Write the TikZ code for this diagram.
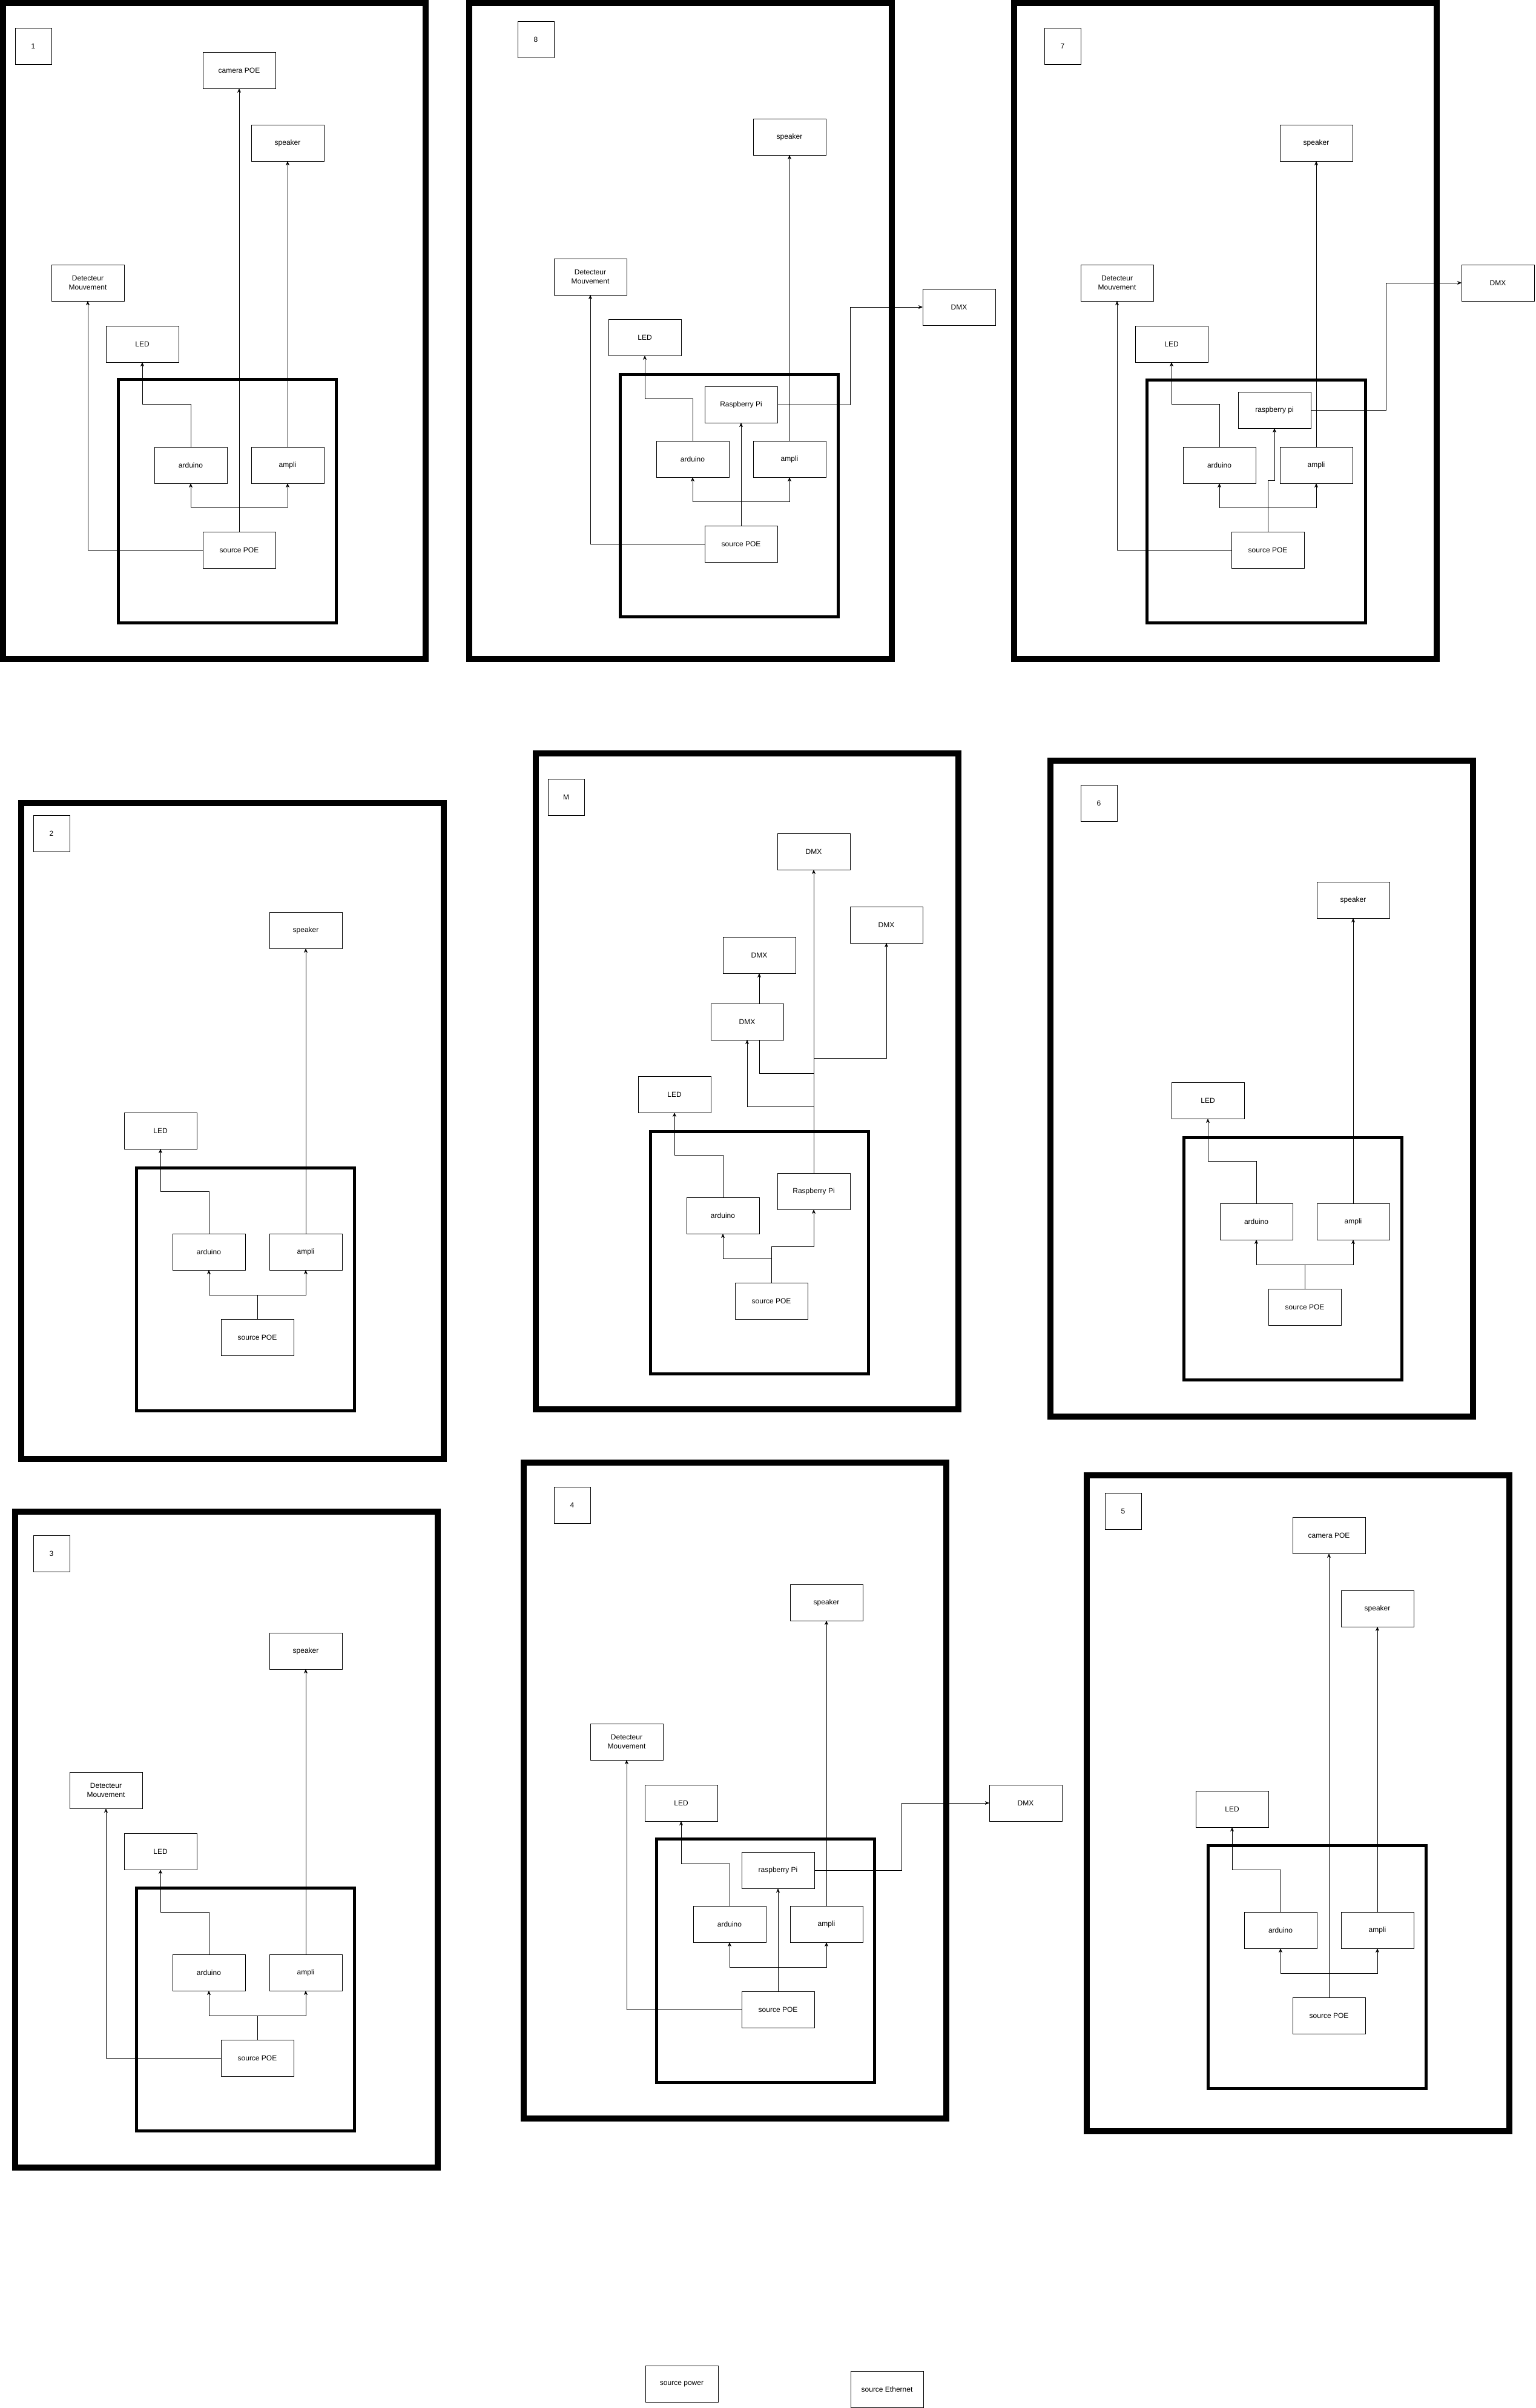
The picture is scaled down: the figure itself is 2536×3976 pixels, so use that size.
\documentclass[tikz,border=0pt]{standalone}
\usepackage{fontspec}
\setmainfont{Liberation Sans}
\usepackage{xcolor}
\usetikzlibrary{arrows.meta}
\definecolor{ink}{HTML}{000000}
\tikzset{
  every picture/.style={line width=1pt},
  box/.style={draw=ink, fill=white, anchor=north west, minimum width=120pt, minimum height=60pt,
    inner sep=0pt, outer sep=0pt, align=center, text=ink, font=\fontsize{12}{14.4}\selectfont},
  tag/.style={box, minimum width=60pt},
  frame/.style={draw=ink, line width=10pt},
  zone/.style={draw=ink, line width=5pt},
  flow/.style={-{Stealth[length=7pt, width=6pt, inset=2pt]}, draw=ink},
  wire/.style={draw=ink},
}
\begin{document}
\begin{tikzpicture}[x=1pt, y=-1pt]
\path[use as bounding box, fill=white] (0,0) rectangle (2536,3976);
% panel 1
\draw[frame] (5,5) rectangle (703,1088);
\draw[zone] (195,626) rectangle (555,1028);
\node[tag] (n1) at (25,46) {1};
\node[box] (cam1) at (335,86) {camera POE};
\node[box] (spk1) at (415,206) {speaker};
\node[box] (det1) at (85,437) {Detecteur\\Mouvement};
\node[box] (led1) at (175,538) {LED};
\node[box] (ard1) at (255,738) {arduino};
\node[box] (amp1) at (415,738) {ampli};
\node[box] (src1) at (335,878) {source POE};
\draw[flow] (ard1.north) -- ++(0,-71) -| (led1.south);
\draw[flow] (src1.north) -- ++(0,-41) -| (ard1.south);
\draw[flow] (src1.north) -- ++(0,-41) -| (amp1.south);
\draw[flow] (src1.north) -- (cam1.south);
\draw[flow] (src1.west) -| (det1.south);
\draw[flow] (amp1.north) -- (spk1.south);
% panel 8
\draw[frame] (775,5) rectangle (1473,1088);
\draw[zone] (1024,618) rectangle (1384,1018);
\node[tag] (n8) at (855,35) {8};
\node[box] (spk8) at (1244,196) {speaker};
\node[box] (det8) at (915,427) {Detecteur\\Mouvement};
\node[box] (led8) at (1005,527) {LED};
\node[box] (dmx8) at (1524,477) {DMX};
\node[box] (rpi8) at (1164,638) {Raspberry Pi};
\node[box] (ard8) at (1084,728) {arduino};
\node[box] (amp8) at (1244,728) {ampli};
\node[box] (src8) at (1164,868) {source POE};
\draw[flow] (ard8.north) -- ++(0,-70) -| (led8.south);
\draw[flow] (src8.north) -- ++(0,-40) -| (ard8.south);
\draw[flow] (src8.north) -- ++(0,-40) -| (amp8.south);
\draw[flow] (src8.north) -- (rpi8.south);
\draw[flow] (src8.west) -| (det8.south);
\draw[flow] (amp8.north) -- (spk8.south);
\draw[flow] (rpi8.east) -- ++(120,0) |- (dmx8.west);
% panel 7
\draw[frame] (1675,5) rectangle (2373,1088);
\draw[zone] (1894,627) rectangle (2255,1028);
\node[tag] (n7) at (1725,46) {7};
\node[box] (spk7) at (2114,206) {speaker};
\node[box] (det7) at (1785,437) {Detecteur\\Mouvement};
\node[box] (led7) at (1875,538) {LED};
\node[box] (dmx7) at (2414,437) {DMX};
\node[box] (rpi7) at (2045,647) {raspberry pi};
\node[box] (ard7) at (1954,738) {arduino};
\node[box] (amp7) at (2114,738) {ampli};
\node[box] (src7) at (2034,878) {source POE};
\draw[flow] (ard7.north) -- ++(0,-71) -| (led7.south);
\draw[flow] (src7.north) -- ++(0,-40) -| (ard7.south);
\draw[flow] (src7.north) -- ++(0,-40) -| (amp7.south);
\draw[flow] (src7.north) -- ++(0,-85) -| (rpi7.south);
\draw[flow] (src7.west) -| (det7.south);
\draw[flow] (amp7.north) -- (spk7.south);
\draw[flow] (rpi7.east) -- ++(124,0) |- (dmx7.west);
% panel 2
\draw[frame] (35,1326) rectangle (733,2409);
\draw[zone] (225,1928) rectangle (585,2329);
\node[tag] (n2) at (55,1346) {2};
\node[box] (spk2) at (445,1506) {speaker};
\node[box] (led2) at (205,1837) {LED};
\node[box] (ard2) at (285,2037) {arduino};
\node[box] (amp2) at (445,2037) {ampli};
\node[box] (src2) at (365,2178) {source POE};
\draw[flow] (ard2.north) -- ++(0,-70) -| (led2.south);
\draw[flow] (src2.north) -- ++(0,-40) -| (ard2.south);
\draw[flow] (src2.north) -- ++(0,-40) -| (amp2.south);
\draw[flow] (amp2.north) -- (spk2.south);
% panel M
\draw[frame] (885,1244) rectangle (1583,2327);
\draw[zone] (1074,1868) rectangle (1434,2268);
\node[tag] (nM) at (905,1286) {M};
\node[box] (dmxa) at (1284,1376) {DMX};
\node[box] (dmxb) at (1404,1497) {DMX};
\node[box] (dmxc) at (1194,1547) {DMX};
\node[box] (dmxd) at (1174,1657) {DMX};
\node[box] (ledM) at (1054,1777) {LED};
\node[box] (rpiM) at (1284,1937) {Raspberry Pi};
\node[box] (ardM) at (1134,1977) {arduino};
\node[box] (srcM) at (1214,2118) {source POE};
\draw[flow] (ardM.north) -- ++(0,-70) -| (ledM.south);
\draw[flow] (srcM.north) -- ++(0,-40) -| (ardM.south);
\draw[flow] (srcM.north) -- ++(0,-60) -| (rpiM.south);
\draw[flow] (rpiM.north) -- (dmxa.south);
\draw[flow] (rpiM.north) -- ++(0,-190) -| (dmxb.south);
\draw[wire] (rpiM.north) -- ++(0,-165) -| (dmxc.south |- dmxd.south);
\draw[flow] (dmxc.south |- dmxd.north) -- (dmxc.south);
\draw[flow] (rpiM.north) -- ++(0,-110) -| (dmxd.south);
% panel 6
\draw[frame] (1735,1256) rectangle (2433,2339);
\draw[zone] (1955,1878) rectangle (2315,2278);
\node[tag] (n6) at (1785,1296) {6};
\node[box] (spk6) at (2175,1456) {speaker};
\node[box] (led6) at (1935,1787) {LED};
\node[box] (ard6) at (2015,1987) {arduino};
\node[box] (amp6) at (2175,1987) {ampli};
\node[box] (src6) at (2095,2128) {source POE};
\draw[flow] (ard6.north) -- ++(0,-70) -| (led6.south);
\draw[flow] (src6.north) -- ++(0,-40) -| (ard6.south);
\draw[flow] (src6.north) -- ++(0,-40) -| (amp6.south);
\draw[flow] (amp6.north) -- (spk6.south);
% panel 3
\draw[frame] (25,2496) rectangle (723,3579);
\draw[zone] (225,3117) rectangle (585,3518);
\node[tag] (n3) at (55,2535) {3};
\node[box] (spk3) at (445,2696) {speaker};
\node[box] (det3) at (115,2926) {Detecteur\\Mouvement};
\node[box] (led3) at (205,3027) {LED};
\node[box] (ard3) at (285,3227) {arduino};
\node[box] (amp3) at (445,3227) {ampli};
\node[box] (src3) at (365,3368) {source POE};
\draw[flow] (ard3.north) -- ++(0,-70) -| (led3.south);
\draw[flow] (src3.north) -- ++(0,-40) -| (ard3.south);
\draw[flow] (src3.north) -- ++(0,-40) -| (amp3.south);
\draw[flow] (src3.west) -| (det3.south);
\draw[flow] (amp3.north) -- (spk3.south);
% panel 4
\draw[frame] (865,2415) rectangle (1563,3498);
\draw[zone] (1084,3036) rectangle (1444,3438);
\node[tag] (n4) at (915,2455) {4};
\node[box] (spk4) at (1305,2616) {speaker};
\node[box] (det4) at (975,2846) {Detecteur\\Mouvement};
\node[box] (led4) at (1065,2947) {LED};
\node[box] (dmx4) at (1634,2947) {DMX};
\node[box] (rpi4) at (1225,3058) {raspberry Pi};
\node[box] (ard4) at (1145,3147) {arduino};
\node[box] (amp4) at (1305,3147) {ampli};
\node[box] (src4) at (1225,3288) {source POE};
\draw[flow] (ard4.north) -- ++(0,-70) -| (led4.south);
\draw[flow] (src4.north) -- ++(0,-40) -| (ard4.south);
\draw[flow] (src4.north) -- ++(0,-40) -| (amp4.south);
\draw[flow] (src4.north) -- (rpi4.south);
\draw[flow] (src4.west) -| (det4.south);
\draw[flow] (amp4.north) -- (spk4.south);
\draw[flow] (rpi4.east) -- ++(144,0) |- (dmx4.west);
% panel 5
\draw[frame] (1795,2436) rectangle (2493,3519);
\draw[zone] (1995,3047) rectangle (2355,3448);
\node[tag] (n5) at (1825,2465) {5};
\node[box] (cam5) at (2135,2505) {camera POE};
\node[box] (spk5) at (2215,2626) {speaker};
\node[box] (led5) at (1975,2957) {LED};
\node[box] (ard5) at (2055,3157) {arduino};
\node[box] (amp5) at (2215,3157) {ampli};
\node[box] (src5) at (2135,3298) {source POE};
\draw[flow] (ard5.north) -- ++(0,-70) -| (led5.south);
\draw[flow] (src5.north) -- ++(0,-40) -| (ard5.south);
\draw[flow] (src5.north) -- ++(0,-40) -| (amp5.south);
\draw[flow] (src5.north) -- (cam5.south);
\draw[flow] (amp5.north) -- (spk5.south);
% legend boxes
\node[box] (pwr) at (1066,3906) {source power};
\node[box] (eth) at (1405,3915) {source Ethernet};
\end{tikzpicture}
\end{document}
